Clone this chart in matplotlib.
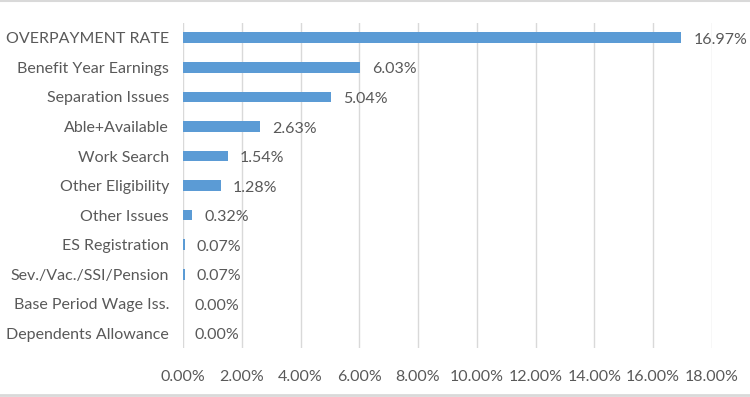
import matplotlib
matplotlib.use("Agg")
import matplotlib.pyplot as plt
from matplotlib.lines import Line2D
from matplotlib.ticker import FuncFormatter

categories = ["OVERPAYMENT RATE", "Benefit Year Earnings", "Separation Issues",
              "Able+Available", "Work Search", "Other Eligibility", "Other Issues",
              "ES Registration", "Sev./Vac./SSI/Pension", "Base Period Wage Iss.",
              "Dependents Allowance"]
rates = [16.97, 6.03, 5.04, 2.63, 1.54, 1.28, 0.32, 0.07, 0.07, 0.00, 0.00]
xticks = [0, 2, 4, 6, 8, 10, 12, 14, 16, 18]

plt.rcParams['font.family'] = ['Lato', 'DejaVu Sans']
text_col = '#595959'
bar_col = '#5B9BD5'
grid_col = '#D9D9D9'

fig = plt.figure(figsize=(7.5, 3.97), dpi=100)
ax = fig.add_axes([0.244, 0.123, 0.705, 0.819])

ypos = list(range(len(categories)))
ax.barh(ypos, rates, height=0.36, color=bar_col, zorder=3)
for y, v in zip(ypos, rates):
    ax.annotate('%.2f%%' % v, (v, y), xytext=(8.5, -1.5), textcoords='offset points',
                va='center', ha='left', fontsize=11.5, color=text_col)

ax.set_yticks(ypos)
ax.set_yticklabels(categories)
ax.set_ylim(len(categories) - 0.5, -0.5)
ax.set_xlim(0, 18)
ax.set_xticks(xticks)
ax.xaxis.set_major_formatter(FuncFormatter(lambda v, p: '%.2f%%' % v))
ax.grid(axis='x', color=grid_col, linewidth=1, zorder=0)
for s in ax.spines.values():
    s.set_visible(False)
ax.tick_params(axis='both', length=0, labelsize=11.5, colors=text_col)
ax.tick_params(axis='y', pad=10)
ax.tick_params(axis='x', pad=16)

# light frame lines at top and bottom of the picture
fig.lines.append(Line2D([0, 1], [0.998, 0.998], transform=fig.transFigure, color=grid_col, linewidth=1.5))
fig.lines.append(Line2D([0, 1], [0.006, 0.006], transform=fig.transFigure, color=grid_col, linewidth=2))

fig.savefig('out.png', dpi=100)
